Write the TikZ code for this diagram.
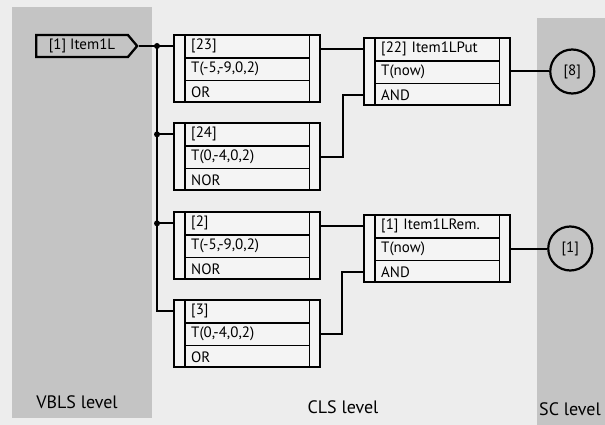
\documentclass[tikz,border=0pt]{standalone}
\usepackage{fontspec}
\setmainfont{PT Sans}
\usetikzlibrary{positioning,shapes.symbols}

\definecolor{paper}{gray}{0.93}
\definecolor{band}{gray}{0.77}

\begin{document}
\begin{tikzpicture}[x=1pt, y=-1pt,
  every node/.style={font=\fontsize{15}{17}\selectfont},
  cbox/.style={draw, line width=2.3pt, fill=paper!60!white, minimum width=146pt, minimum height=67pt, inner sep=0pt},
  row/.style={minimum width=124pt, minimum height=22.33pt, inner xsep=6pt, inner ysep=0pt, text width=112pt, align=left},
  sep/.style={line width=1.8pt},
  wire/.style={line width=2pt},
  sig/.style={draw, signal, signal to=east, line width=2.3pt, minimum width=101pt, minimum height=22pt, signal pointer angle=100, inner sep=2pt},
  sc/.style={draw, circle, line width=2.2pt, minimum size=44pt, inner sep=0pt},
  lvl/.style={font=\fontsize{18}{20}\selectfont},
]

% -- background and level bands --
\fill[paper] (0,0) rectangle (605,425);
\useasboundingbox (0,0) rectangle (605,425);
\fill[band] (12,7) rectangle (152,418);
\fill[band] (537,18) rectangle (605,425);

% -- VBLS level source --
\node[sig, anchor=west] (src) at (35,46) {[1] Item1L};

% -- CLS level condition boxes --
\foreach \n/\x/\y/\a/\b/\c in {
    23/174/35/{[23]}/{T(-5,-9,0,2)}/OR,
    24/174/123/{[24]}/{T(0,-4,0,2)}/NOR,
    2/174/212/{[2]}/{T(-5,-9,0,2)}/NOR,
    3/174/300/{[3]}/{T(0,-4,0,2)}/OR,
    22/364/38/{[22] Item1LPut}/{T(now)}/AND,
    1/364/215/{[1] Item1LRem.}/{T(now)}/AND}{
  \node[cbox] (b\n) at (\x+73,\y+33.5) {};
  \node[row, anchor=north west] (b\n-1) at (\x+11,\y) {\a};
  \node[row, below=0pt of b\n-1] (b\n-2) {\b};
  \node[row, below=0pt of b\n-2] (b\n-3) {\c};
  \draw[sep] (b\n-1.south west) -- (b\n-1.south east)
             (b\n-2.south west) -- (b\n-2.south east);
  \draw[sep] (b\n-1.north west) -- (b\n-3.south west)
             (b\n-1.north east) -- (b\n-3.south east);
}

% -- SC level --
\node[sc, right=38pt of b22] (s8) {[8]};
\node[sc, right=36pt of b1] (s1) {[1]};

% -- fan-out from the source --
\coordinate (j0) at (157,46);
\draw[wire] (src.east) -- (j0) -- (b23.west |- j0);
\draw[wire] (j0) |- (b3.west |- b3-1.center);
\draw[wire] (j0 |- b24-1.center) -- (b24.west |- b24-1.center);
\draw[wire] (j0 |- b2-1.center) -- (b2.west |- b2-1.center);
\foreach \p in {j0, j0 |- b24-1.center, j0 |- b2-1.center}
  \fill (\p) circle (3);

% -- into the AND boxes --
\draw[wire] (b23.east |- b22-1.center) -- (b22.west |- b22-1.center);
\draw[wire] (b24.east |- b24-2.center) -- ++(22,0) |- (b22.west |- b22-3.center);
\draw[wire] (b2.east |- b1-1.center) -- (b1.west |- b1-1.center);
\draw[wire] (b3.east |- b3-2.center) -- ++(21,0) |- (b1.west |- b1-3.center);

% -- out to SC --
\draw[wire] (b22.east |- s8) -- (s8);
\draw[wire] (b1.east |- s1) -- (s1);

% -- level names --
\node[lvl] (vbls) at (77,402) {VBLS level};
\node[lvl] (cls) at (343,407) {CLS level};
\node[lvl] (sclv) at (570,409) {SC level};

\end{tikzpicture}
\end{document}
